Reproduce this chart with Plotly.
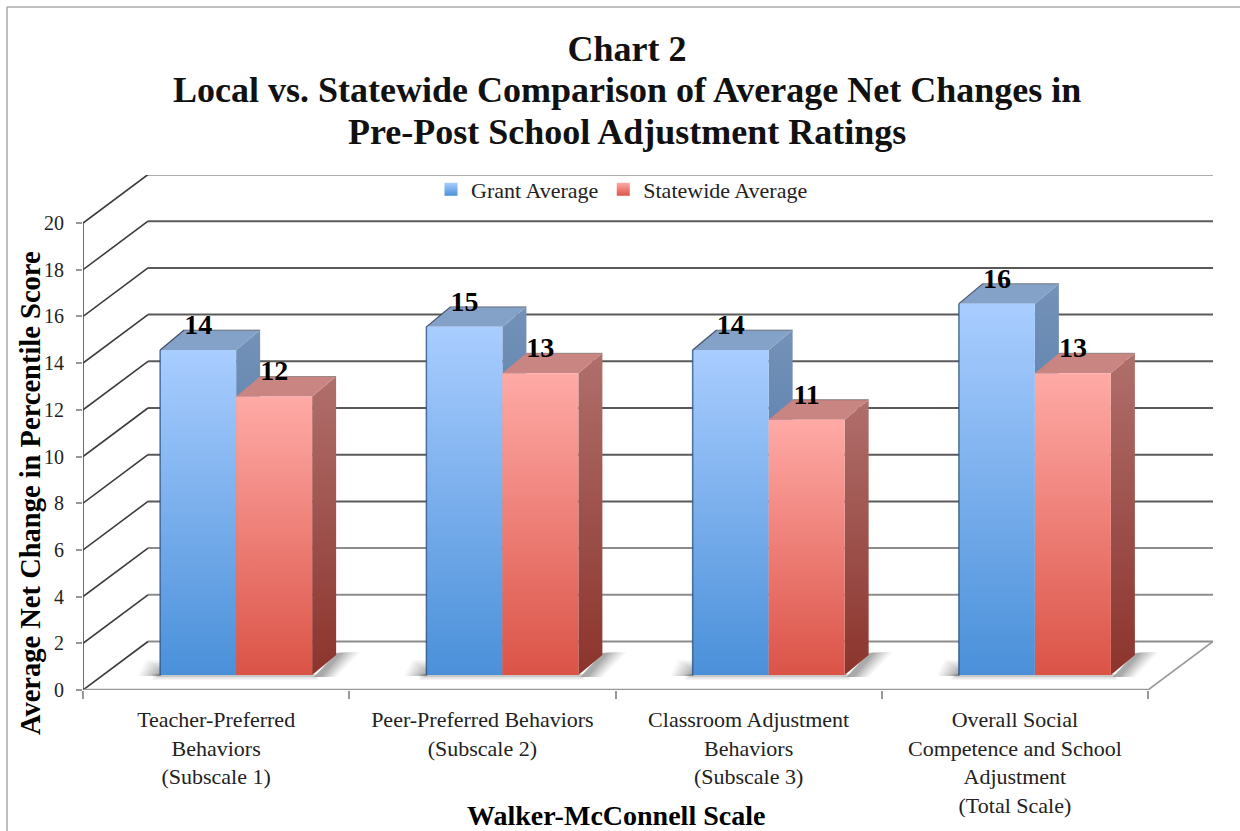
import plotly.graph_objects as go

categories = ["Teacher-Preferred<br>Behaviors<br>(Subscale 1)",
              "Peer-Preferred Behaviors<br>(Subscale 2)",
              "Classroom Adjustment<br>Behaviors<br>(Subscale 3)",
              "Overall Social<br>Competence and School<br>Adjustment<br>(Total Scale)"]
grant_average = [14, 15, 14, 16]
statewide_average = [12, 13, 11, 13]
y_ticks = [0, 2, 4, 6, 8, 10, 12, 14, 16, 18, 20]
title_lines = ["Chart 2",
               "Local vs. Statewide Comparison of Average Net Changes in",
               "Pre-Post School Adjustment Ratings"]

SERIF = "Liberation Serif"
W, H = 1240, 831
L, R, T, B = 83, 1148, 223, 690      # front plane
PR, PT = 1213, 175                   # back wall corner, plot area edge
PX = 4 / (R - L)      # data units per pixel, x
PY = 20 / (B - T)     # data units per pixel, y
WALL_DX, WALL_DY = 65 * PX, 48.5 * PY
BAR_FX, BAR_FY = 20 * PX, 15 * PY     # how far the bars stand behind the front edge
BAR_DX, BAR_DY = 24 * PX, 20 * PY     # bar depth
BAR_W = 76 * PX
PERSP = 0.994

BLUE = dict(front=("#4a90d9", "#a9cdff"), side=("#34679f", "#7592b8"), top="#84a1c8", edge="rgba(35,75,125,0.75)")
RED = dict(front=("#db5347", "#ffaaa6"), side=("#8b342c", "#b06f6c"), top="#c98582", edge=None)


def px(x):
    return (x - L) / (PR - L)


def py(y):
    return (B - y) / (B - PT)


fig = go.Figure()


def poly(xs, ys, **kw):
    fig.add_trace(go.Scatter(x=xs + xs[:1], y=ys + ys[:1], mode="lines", fill="toself", line=dict(width=0),
                             showlegend=False, hoverinfo="skip", **kw))


def lines(segs, color, width):
    xs, ys = [], []
    for (a, b), (c, d) in segs:
        xs += [a, c, None]
        ys += [b, d, None]
    fig.add_trace(go.Scatter(x=xs, y=ys, mode="lines", line=dict(color=color, width=width),
                             showlegend=False, hoverinfo="skip"))


def grad(c):
    return dict(type="vertical", colorscale=[[0, c[0]], [1, c[1]]])


# walls and floor
lines([((WALL_DX, v + WALL_DY), (4 + WALL_DX, v + WALL_DY)) for v in y_ticks if v > 4], "#5a5a5a", 2)
lines([((WALL_DX, v + WALL_DY), (4 + WALL_DX, v + WALL_DY)) for v in y_ticks if v <= 4], "#8c8c8c", 2)
lines([((0, v), (WALL_DX, v + WALL_DY)) for v in y_ticks], "#3c3c3c", 1.6)
lines([((4, 0), (4 + WALL_DX, WALL_DY))], "#999999", 1.6)
lines([((0, 0), (4, 0))], "#999999", 2.5)
lines([((0, 0), (0, 20))], "#4a4a4a", 1.6)


def shadow(i):
    """Soft floor shadow: stacked translucent layers, offsets in pixels from the bar pair's base corners."""
    x0 = i + 0.5 - BAR_W + BAR_FX
    x2 = i + 0.5 + BAR_W + BAR_FX
    fill = "rgba(70,70,70,{})"
    layers = ((1.0, 0.05), (0.88, 0.06), (0.76, 0.07), (0.64, 0.08), (0.52, 0.09), (0.4, 0.10), (0.28, 0.11))
    # left of the bars
    for s, alpha in layers:
        poly([x0 - 22 * s * PX, x0 - (22 * s - 8) * PX, x0 + 1 * PX, x0 + 1 * PX],
             [BAR_FY - 1 * PY, BAR_FY + 15 * s * PY, BAR_FY + 15 * s * PY, BAR_FY - 1 * PY],
             fillcolor=fill.format(alpha))
    # right of the bars
    for s, alpha in layers:
        poly([x2 + 2 * PX, x2 + 24 * PX, x2 + (24 + 24 * s) * PX, x2 + (4 + 20 * s) * PX],
             [BAR_FY - 2 * PY, BAR_FY + 22 * PY, BAR_FY + 23 * PY, BAR_FY - 2 * PY],
             fillcolor=fill.format(alpha))
    # thin band along the front foot
    for e, alpha in ((5, 0.06), (3.5, 0.10), (2, 0.16)):
        poly([x0 - (1.5 * e) * PX, x2 + (1.2 * e) * PX, x2 + (1.2 * e) * PX, x0 - (1.5 * e) * PX],
             [BAR_FY - e * PY, BAR_FY - e * PY, BAR_FY + 1 * PY, BAR_FY + 1 * PY],
             fillcolor=fill.format(alpha))


for i in range(4):
    shadow(i)


def bar(x0, v, st):
    x1 = x0 + BAR_W
    top = v * PERSP + BAR_FY
    poly([x1, x1 + BAR_DX, x1 + BAR_DX, x1], [BAR_FY, BAR_FY + BAR_DY, top + BAR_DY, top], fillgradient=grad(st["side"]))
    poly([x0, x1, x1 + BAR_DX, x0 + BAR_DX], [top, top, top + BAR_DY, top + BAR_DY], fillcolor=st["top"])
    lines([((x0 + BAR_DX, top + BAR_DY), (x1 + BAR_DX, top + BAR_DY))], "rgba(90,90,90,0.55)", 1.2)
    poly([x0, x1, x1, x0], [BAR_FY, BAR_FY, top, top], fillgradient=grad(st["front"]))
    if st["edge"]:
        lines([((x0, BAR_FY), (x0, top))], st["edge"], 1.5)
        lines([((x0, top), (x0 + BAR_DX, top + BAR_DY))], "rgba(40,50,70,0.8)", 1.2)


for i, (g, s) in enumerate(zip(grant_average, statewide_average)):
    mid = i + 0.5 + BAR_FX
    bar(mid - BAR_W, g, BLUE)
    bar(mid, s, RED)

# value labels
lab_x, lab_y, lab_t = [], [], []
for i, (g, s) in enumerate(zip(grant_average, statewide_average)):
    mid = i + 0.5 + BAR_FX
    lab_x += [mid - BAR_W / 2, mid + BAR_W / 2]
    lab_y += [g * PERSP + BAR_FY + 23 * PY, s * PERSP + BAR_FY + 23 * PY]
    lab_t += [str(g), str(s)]
fig.add_trace(go.Scatter(x=lab_x, y=lab_y, text=lab_t, mode="text", textposition="middle center",
                         textfont=dict(family=SERIF, size=28, color="#000000", weight="bold"),
                         showlegend=False, hoverinfo="skip"))

# legend entries
for name, st in (("Grant Average", BLUE), ("Statewide Average", RED)):
    fig.add_trace(go.Scatter(x=[None], y=[None], mode="markers", name=name,
                             marker=dict(symbol="square", size=13, color=st["front"][1],
                                         gradient=dict(type="vertical", color=st["front"][0]))))

title_font = dict(family=SERIF, size=36, color="#111111", weight="bold")

for line, yc in zip(title_lines[1:], (90, 132)):
    fig.add_annotation(text=line, xref="paper", yref="paper", x=px(627), y=py(yc), showarrow=False,
                       xanchor="center", yanchor="middle", font=title_font)
fig.add_annotation(text="Average Net Change in Percentile Score", textangle=-90,
                   xref="paper", yref="paper", x=px(30), y=py(493),
                   showarrow=False, xanchor="center", yanchor="middle",
                   font=dict(family=SERIF, size=28.5, color="#000000", weight="bold"))
fig.add_annotation(text="Walker-McConnell Scale", xref="paper", yref="paper", x=px(616), y=py(815),
                   showarrow=False, xanchor="center", yanchor="middle",
                   font=dict(family=SERIF, size=28, color="#000000", weight="bold"))

fig.update_layout(
    width=W, height=H, margin=dict(l=L, r=W - PR, t=PT, b=H - B, autoexpand=False),
    paper_bgcolor="white", plot_bgcolor="rgba(0,0,0,0)",
    title=dict(text=title_lines[0], x=627 / W, xanchor="center", y=1 - 48 / H, yanchor="middle",
               font=title_font),
    legend=dict(orientation="h", xref="container", yref="container", x=431 / W, xanchor="left",
                y=1 - 189.5 / H, yanchor="middle", bgcolor="rgba(0,0,0,0)",
                font=dict(family=SERIF, size=22, color="#222222")),
    xaxis=dict(range=[0, (PR - L) * PX], tickmode="array", tickvals=[0.5, 1.5, 2.5, 3.5], ticktext=categories,
               automargin=False, ticks="", showgrid=False, zeroline=False, showline=False,
               ticklabelstandoff=14, tickfont=dict(family=SERIF, size=22, color="#222222"),
               minor=dict(tickmode="array", tickvals=[0, 1, 2, 3, 4], ticks="outside", ticklen=8, tickcolor="#999999", tickwidth=1.5)),
    yaxis=dict(range=[0, (B - PT) * PY], tickmode="array", tickvals=y_ticks, ticks="outside", ticklen=6,
               automargin=False, tickcolor="#999999", tickwidth=1.5, showgrid=False, zeroline=False, showline=False,
               ticklabelstandoff=8, tickfont=dict(family=SERIF, size=20, color="#222222")),
    shapes=[
        dict(type="line", xref="paper", yref="paper", x0=px(7), x1=px(W), y0=py(7), y1=py(7),
             line=dict(color="#aaaaaa", width=1.5)),
        dict(type="line", xref="paper", yref="paper", x0=px(7), x1=px(7), y0=py(7), y1=py(H),
             line=dict(color="#aaaaaa", width=1.5)),
    ],
)

fig.write_html("out.html", config=dict(displayModeBar=False), post_script="document.body.style.margin='0';")
